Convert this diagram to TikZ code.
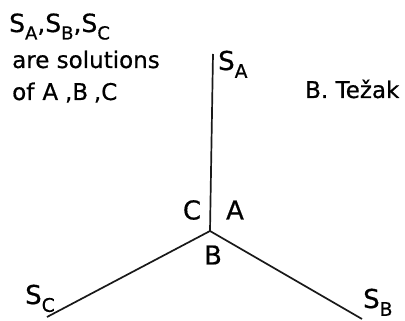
\documentclass[tikz,border=0pt]{standalone}
\usepackage{fontspec}
\setmainfont{DejaVu Sans}[FakeBold=0.6]
\usepackage{tikz}
\usetikzlibrary{positioning}

% lowered, large index as in the hand lettering
\newcommand{\idx}[1]{\raisebox{-0.3em}{\scalebox{0.72}{#1}}}

\begin{document}
\begin{tikzpicture}[
    x=1pt, y=-1pt,
    edge/.style={line width=1.7pt, draw=black!90},
    phase/.style={font=\fontsize{26}{30}\selectfont, inner sep=0pt},
    sol/.style={font=\fontsize{26}{30}\selectfont, anchor=base west, inner sep=0pt},
    note/.style={font=\fontsize{23}{28}\selectfont, anchor=base west, inner sep=0pt}
]
\useasboundingbox (0,0) rectangle (405,321);

% Junction and the three branch ends
\coordinate (junc) at (210,231);
\coordinate (endA) at (213,54);
\coordinate (endC) at (47,317);
\coordinate (endB) at (362,319);

% Branches
\draw[edge] (junc) -- (endA);
\draw[edge] (junc) -- (endC);
\draw[edge] (junc) -- (endB);

% Phase labels round the junction
\node[phase] (phC) at (192,210) {C};
\node[phase] (phA) at (235,210) {A};
\node[phase] (phB) at (213,255) {B};

% Solution labels at the branch ends
\node[sol] (solA) at (218,70) {S\idx{A}};
\node[sol] (solC) at (25,304) {S\idx{C}};
\node[sol] (solB) at (363,308) {S\idx{B}};

% Legend and author
\node[note, font=\fontsize{25}{28}\selectfont] (legA) at (9,32) {S\idx{A},S\idx{B},S\idx{C}};
\node[note] (legB) at (12,68) {are solutions};
\node[note] (legC) at (12,100) {of\hspace{0.35em}A\hspace{0.3em},B\hspace{0.25em},C};
\node[note] (author) at (305,98) {B. Težak};

\end{tikzpicture}
\end{document}
